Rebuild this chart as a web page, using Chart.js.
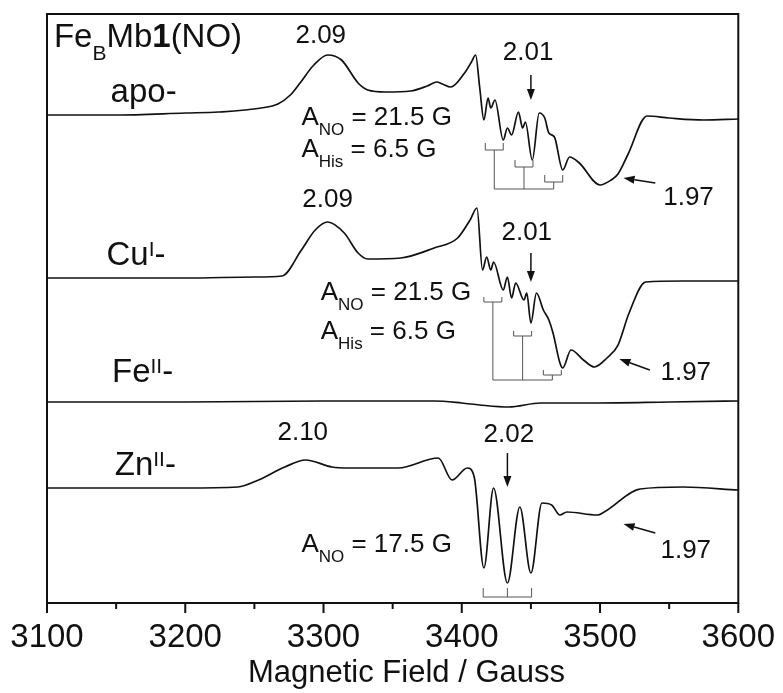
<!DOCTYPE html>
<html>
<head>
<meta charset="utf-8">
<script src="https://cdn.jsdelivr.net/npm/chart.js@4.4.1/dist/chart.umd.min.js"></script>
<style>
  html, body { margin: 0; padding: 0; background: #fff; }
  #wrap { width: 783px; height: 693px; }
</style>
</head>
<body>
<div id="wrap"><canvas id="epr" width="783" height="693"></canvas></div>
<script>
// field axis (Gauss)
const fieldMin = 3100;
const fieldMax = 3600;
const fieldMinorTicks = [3150, 3250, 3350, 3450, 3550];
const fieldTitle = 'Magnetic Field / Gauss';
const fieldTitleCenter = 3360;

// stacked traces, arbitrary intensity units
const traceOffsets = [488, 325, 201, 115];   // apo, CuI, FeII, ZnII

// apo-
const apoField = [3100, 3150, 3200, 3224, 3255, 3267, 3276, 3283, 3293, 3303, 3313, 3325, 3332, 3345, 3363, 3375, 3382, 3386, 3392, 3402, 3407, 3410, 3413, 3416, 3419, 3421, 3424, 3430, 3433, 3436, 3441, 3444, 3446, 3451, 3456, 3460, 3463, 3467, 3473, 3478, 3485, 3500, 3508, 3513, 3520, 3534, 3550, 3575, 3600];
const apoSignal = [0, 0, 2, 3, 7, 11, 20, 32, 50, 60, 55, 32, 25, 23, 24, 29, 33, 31, 28, 42, 53, 60, 27, -5, 17, 7, 15, -25, -13, -20, 3, -13, -7, -45, 2, -3, -18, -22, -55, -42, -48, -70, -65, -59, -40, -1, -3, -5, -4];

// CuI-
const cuField = [3100, 3150, 3200, 3250, 3270, 3284, 3294, 3303, 3315, 3325, 3332, 3356, 3380, 3397, 3406, 3411, 3415, 3418, 3421, 3423, 3430, 3433, 3436, 3439, 3445, 3447, 3450, 3454, 3459, 3463, 3466, 3471, 3473, 3479, 3488, 3496, 3505, 3513, 3521, 3533, 3560, 3600];
const cuSignal = [0, 0, 0, 1, 2, 28, 48, 56, 45, 25, 19, 20, 30, 40, 58, 70, 8, 21, 8, 16, -12, 1, -20, -5, -22, -15, -45, -15, -32, -42, -55, -85, -90, -72, -82, -89, -80, -67, -35, -4, -3, -3];

// FeII-
const feField = [3100, 3200, 3300, 3380, 3400, 3413, 3434, 3457, 3498, 3550, 3600];
const feSignal = [0, 0, 1, 1, -1, -3, -5, -1, -1, 0, 1];

// ZnII-
const znField = [3100, 3200, 3238, 3253, 3272, 3287, 3306, 3318, 3354, 3383, 3393, 3404, 3409, 3416, 3423, 3433, 3442, 3450, 3458, 3465, 3471, 3476, 3498, 3503, 3529, 3560, 3600];
const znSignal = [0, 0, 1, 8, 21, 28, 21, 20, 20, 30, 8, 20, 11, -80, 0, -95, -19, -85, -15, -17, -27, -24, -27, -24, -1, 1, -2];

const FONT = '"Liberation Sans", Arial, Helvetica, sans-serif';

// text annotations: runs of plain / sub / sup / bold text, placed in data units
const labels = [
    { runs: [{ t: 'Fe' }, { t: 'B', sub: true }, { t: 'Mb' }, { t: '1', bold: true }, { t: '(NO)' }], x: 3105, y: 556, size: 33, align: 'left' },
    { runs: [{ t: 'apo-' }], x: 3146, y: 501, size: 33, align: 'left' },
    { runs: [{ t: 'Cu' }, { t: 'I', sup: true }, { t: '-' }], x: 3143, y: 338, size: 33, align: 'left' },
    { runs: [{ t: 'Fe' }, { t: 'II', sup: true }, { t: '-' }], x: 3147, y: 221, size: 33, align: 'left' },
    { runs: [{ t: 'Zn' }, { t: 'II', sup: true }, { t: '-' }], x: 3149, y: 128, size: 33, align: 'left' },
    { runs: [{ t: '2.09' }], x: 3298, y: 560, size: 26, align: 'center' },
    { runs: [{ t: '2.01' }], x: 3448, y: 543, size: 26, align: 'center' },
    { runs: [{ t: '1.97' }], x: 3564, y: 398, size: 26, align: 'center' },
    { runs: [{ t: 'A' }, { t: 'NO', sub: true }, { t: ' = 21.5 G' }], x: 3284, y: 478, size: 26, align: 'left' },
    { runs: [{ t: 'A' }, { t: 'His', sub: true }, { t: ' = 6.5 G' }], x: 3284, y: 446, size: 26, align: 'left' },
    { runs: [{ t: '2.09' }], x: 3303, y: 396, size: 26, align: 'center' },
    { runs: [{ t: '2.01' }], x: 3447, y: 363, size: 26, align: 'center' },
    { runs: [{ t: '1.97' }], x: 3562, y: 223, size: 26, align: 'center' },
    { runs: [{ t: 'A' }, { t: 'NO', sub: true }, { t: ' = 21.5 G' }], x: 3298, y: 303, size: 26, align: 'left' },
    { runs: [{ t: 'A' }, { t: 'His', sub: true }, { t: ' = 6.5 G' }], x: 3298, y: 264, size: 26, align: 'left' },
    { runs: [{ t: '2.10' }], x: 3285, y: 163, size: 26, align: 'center' },
    { runs: [{ t: '2.02' }], x: 3434, y: 161, size: 26, align: 'center' },
    { runs: [{ t: '1.97' }], x: 3562, y: 45, size: 26, align: 'center' },
    { runs: [{ t: 'A' }, { t: 'NO', sub: true }, { t: ' = 17.5 G' }], x: 3284, y: 51, size: 26, align: 'left' }
];

// arrows: from tail to head, data units
const arrows = [
    { x0: 3450, y0: 528, x1: 3450, y1: 503 },
    { x0: 3540, y0: 420, x1: 3517, y1: 425 },
    { x0: 3450, y0: 350, x1: 3450, y1: 321 },
    { x0: 3536, y0: 233, x1: 3514, y1: 244 },
    { x0: 3433, y0: 150, x1: 3433, y1: 116 },
    { x0: 3540, y0: 70, x1: 3517, y1: 79 }
];

// hyperfine stick diagrams
const sticks = [
    { center: 3445, aNO: 21.5, aHis: 6.5, base: 414, arms: [453, 436, 421], tick: 7 },
    { center: 3444, aNO: 21.5, aHis: 6.5, base: 223, arms: [301, 267, 228], tick: 5 }
];
const znStick = { center: 3433, aNO: 17.5, base: 6, tick: 9 };

function buildPoints(field, signal, offset) {
    return field.map((f, i) => ({ x: f, y: offset + signal[i] }));
}

function drawRuns(ctx, runs, x, y, size, align) {
    let total = 0;
    const parts = runs.map(r => {
        const small = r.sub || r.sup;
        const s = small ? Math.round(size * 0.64) : size;
        const font = (r.bold ? 'bold ' : '') + s + 'px ' + FONT;
        ctx.font = font;
        const w = ctx.measureText(r.t).width;
        total += w;
        return { t: r.t, font: font, w: w, dy: r.sub ? size * 0.38 : (r.sup ? -size * 0.27 : 0) };
    });
    let cx = align === 'center' ? x - total / 2 : x;
    parts.forEach(p => {
        ctx.font = p.font;
        ctx.fillText(p.t, cx, y + p.dy);
        cx += p.w;
    });
}

const annotationPlugin = {
    id: 'eprAnnotations',
    afterDatasetsDraw(chart) {
        const ctx = chart.ctx;
        const xs = chart.scales.x;
        const ys = chart.scales.y;
        const area = chart.chartArea;
        const px = v => xs.getPixelForValue(v);
        const py = v => ys.getPixelForValue(v);
        ctx.save();

        // stick diagrams
        ctx.strokeStyle = '#555';
        ctx.lineWidth = 1;
        ctx.beginPath();
        sticks.forEach(s => {
            ctx.moveTo(px(s.center - s.aNO), py(s.base));
            ctx.lineTo(px(s.center + s.aNO), py(s.base));
            [-1, 0, 1].forEach((k, i) => {
                const c = s.center + k * s.aNO;
                ctx.moveTo(px(c), py(s.base));
                ctx.lineTo(px(c), py(s.arms[i]));
                ctx.moveTo(px(c - s.aHis), py(s.arms[i] + s.tick));
                ctx.lineTo(px(c - s.aHis), py(s.arms[i]));
                ctx.lineTo(px(c + s.aHis), py(s.arms[i]));
                ctx.lineTo(px(c + s.aHis), py(s.arms[i] + s.tick));
            });
        });
        ctx.moveTo(px(znStick.center - znStick.aNO), py(znStick.base + znStick.tick));
        ctx.lineTo(px(znStick.center - znStick.aNO), py(znStick.base));
        ctx.lineTo(px(znStick.center + znStick.aNO), py(znStick.base));
        ctx.lineTo(px(znStick.center + znStick.aNO), py(znStick.base + znStick.tick));
        ctx.moveTo(px(znStick.center), py(znStick.base));
        ctx.lineTo(px(znStick.center), py(znStick.base + znStick.tick));
        ctx.stroke();

        // arrows
        ctx.strokeStyle = '#111';
        ctx.fillStyle = '#111';
        ctx.lineWidth = 1.5;
        arrows.forEach(a => {
            const x0 = px(a.x0), y0 = py(a.y0), x1 = px(a.x1), y1 = py(a.y1);
            const ang = Math.atan2(y1 - y0, x1 - x0);
            const len = 11, half = 4;
            const bx = x1 - len * Math.cos(ang), by = y1 - len * Math.sin(ang);
            ctx.beginPath();
            ctx.moveTo(x0, y0);
            ctx.lineTo(bx, by);
            ctx.stroke();
            ctx.beginPath();
            ctx.moveTo(x1, y1);
            ctx.lineTo(bx + half * Math.sin(ang), by - half * Math.cos(ang));
            ctx.lineTo(bx - half * Math.sin(ang), by + half * Math.cos(ang));
            ctx.closePath();
            ctx.fill();
        });

        // text
        ctx.fillStyle = '#111';
        ctx.textBaseline = 'alphabetic';
        ctx.textAlign = 'left';
        labels.forEach(l => drawRuns(ctx, l.runs, px(l.x), py(l.y), l.size, l.align));

        // axis title under the tick labels
        ctx.font = '31px ' + FONT;
        ctx.textAlign = 'center';
        ctx.textBaseline = 'middle';
        ctx.fillText(fieldTitle, px(fieldTitleCenter), area.bottom + 70);

        // frame and bottom ticks
        ctx.strokeStyle = '#111';
        ctx.lineWidth = 2;
        ctx.strokeRect(area.left, area.top, area.right - area.left, area.bottom - area.top);
        ctx.beginPath();
        xs.ticks.forEach(t => {
            ctx.moveTo(px(t.value), area.bottom);
            ctx.lineTo(px(t.value), area.bottom + 10);
        });
        fieldMinorTicks.forEach(v => {
            ctx.moveTo(px(v), area.bottom);
            ctx.lineTo(px(v), area.bottom + 6);
        });
        ctx.stroke();
        ctx.restore();
    }
};

const traceStyle = {
    borderColor: '#111',
    borderWidth: 1.7,
    pointRadius: 0,
    fill: false,
    cubicInterpolationMode: 'monotone'
};

new Chart(document.getElementById('epr').getContext('2d'), {
    type: 'line',
    data: {
        datasets: [
            Object.assign({ label: 'apo-', data: buildPoints(apoField, apoSignal, traceOffsets[0]) }, traceStyle),
            Object.assign({ label: 'CuI-', data: buildPoints(cuField, cuSignal, traceOffsets[1]) }, traceStyle),
            Object.assign({ label: 'FeII-', data: buildPoints(feField, feSignal, traceOffsets[2]) }, traceStyle),
            Object.assign({ label: 'ZnII-', data: buildPoints(znField, znSignal, traceOffsets[3]) }, traceStyle)
        ]
    },
    options: {
        responsive: false,
        animation: false,
        layout: { padding: { left: 47, right: 41, top: 14, bottom: 20 } },
        plugins: {
            legend: { display: false },
            tooltip: { enabled: false }
        },
        scales: {
            x: {
                type: 'linear',
                min: fieldMin,
                max: fieldMax,
                grid: { display: false, drawTicks: false },
                border: { display: false },
                ticks: {
                    stepSize: 100,
                    padding: 8,
                    color: '#111',
                    maxRotation: 0,
                    callback: v => String(v),
                    font: { family: FONT, size: 33, lineHeight: '54px' }
                },
                title: { display: false }
            },
            y: {
                type: 'linear',
                min: 0,
                max: 589,
                display: false
            }
        }
    },
    plugins: [annotationPlugin]
});
</script>
</body>
</html>
